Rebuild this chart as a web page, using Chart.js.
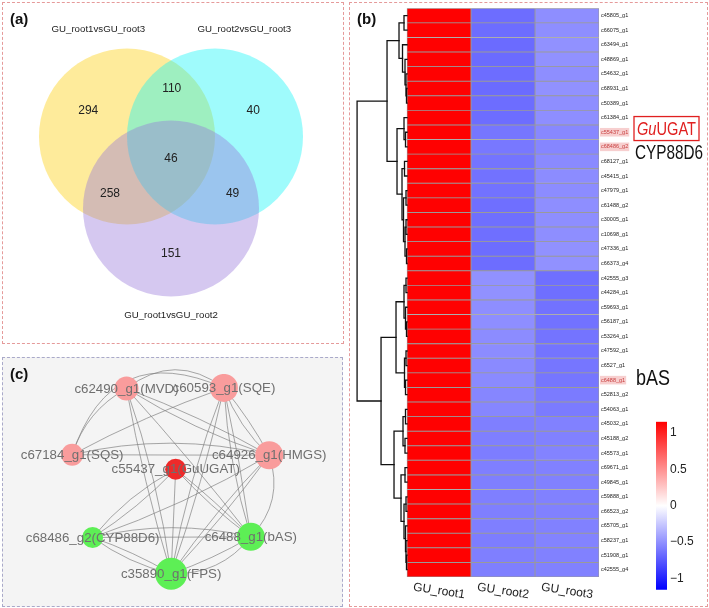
<!DOCTYPE html>
<html>
<head>
<meta charset="utf-8">
<script src="https://cdn.jsdelivr.net/npm/chart.js@4.4.0/dist/chart.umd.min.js"></script>
<style>
  body { margin: 0; background: #fff; width: 709px; height: 608px; position: relative; overflow: hidden;
         font-family: "Liberation Sans", Arial, sans-serif; }
  .panel { position: absolute; box-sizing: border-box; }
  #pa { left: 2px; top: 2px; width: 342px; height: 342px; border: 1px dashed #e59a9a; }
  #pb { left: 349px; top: 2px; width: 359px; height: 605px; border: 1px dashed #e59a9a; }
  #pc { left: 2px; top: 357px; width: 341px; height: 250px; border: 1px dashed #a9a9c9; background: #f4f4f4; }
  .tag { position: absolute; font-weight: bold; font-size: 15px; line-height: 15px; color: #111; }
  canvas { position: absolute; }
</style>
</head>
<body>
<div class="panel" id="pa"></div>
<div class="panel" id="pb"></div>
<div class="panel" id="pc"></div>

<canvas id="venn" width="340" height="340" style="left:3px;top:3px"></canvas>
<canvas id="heat" width="356" height="602" style="left:350px;top:3px"></canvas>
<canvas id="cbar" width="60" height="190" style="left:640px;top:410px"></canvas>
<canvas id="net" width="339" height="248" style="left:3px;top:358px"></canvas>

<div class="tag" style="left:10px;top:11px">(a)</div>
<div class="tag" style="left:357px;top:11px">(b)</div>
<div class="tag" style="left:10px;top:366px">(c)</div>

<script>
// ── (a) Venn: 세 비교군의 DEG 겹침 ──
const vennSets   = ['GU_root1vsGU_root3', 'GU_root2vsGU_root3', 'GU_root1vsGU_root2'];
const vennCx     = [-0.5, 0.5, 0];
const vennCy     = [0.273, 0.273, -0.545];
const vennLabelX = [-0.826, 0.833, 0];
const vennLabelY = [1.49, 1.49, -1.756];
const vennCounts = [294, 110, 40, 46, 258, 49, 151];
const vennCountX = [-0.94, 0.008, 0.935, 0, -0.693, 0.70, 0];
const vennCountY = [0.566, 0.82, 0.566, 0.025, -0.374, -0.374, -1.06];

// ── (b) heatmap: 행 z-score ──
const genes = ['c45805_g1','c66075_g1','c63494_g1','c48869_g1','c54632_g1','c68931_g1','c50389_g1','c61384_g1',
  'c55437_g1','c68486_g2','c68127_g1','c45415_g1','c47979_g1','c61488_g2','c30005_g1','c10698_g1','c47336_g1',
  'c66373_g4','c42555_g3','c44284_g1','c59693_g1','c56187_g1','c53264_g1','c47592_g1','c6527_g1','c6488_g1',
  'c52813_g2','c54063_g1','c45032_g1','c45188_g2','c45573_g1','c69671_g1','c49845_g1','c59888_g1','c66523_g2',
  'c65705_g1','c58237_g1','c51908_g1','c42555_g4'];
const samples = ['GU_root1', 'GU_root2', 'GU_root3'];
const zRoot1 = [1.15,1.15,1.15,1.15,1.15,1.15,1.15,1.15,1.15,1.15,1.15,1.15,1.15,1.15,1.15,1.15,1.15,1.15,
  1.15,1.15,1.15,1.15,1.15,1.15,1.15,1.15,1.15,1.15,1.15,1.15,1.15,1.15,1.15,1.15,1.15,1.15,1.15,1.15,1.15];
const zRoot2 = [-0.66,-0.66,-0.67,-0.67,-0.66,-0.67,-0.66,-0.66,-0.62,-0.61,-0.63,-0.64,-0.64,-0.65,-0.65,-0.65,
  -0.66,-0.66,-0.50,-0.50,-0.51,-0.51,-0.52,-0.52,-0.53,-0.53,-0.55,-0.55,-0.58,-0.58,-0.59,-0.58,-0.58,-0.58,
  -0.58,-0.58,-0.59,-0.58,-0.58];
const zRoot3 = [-0.51,-0.51,-0.50,-0.50,-0.51,-0.50,-0.51,-0.51,-0.54,-0.55,-0.53,-0.52,-0.52,-0.51,-0.51,-0.51,
  -0.50,-0.50,-0.65,-0.65,-0.64,-0.64,-0.63,-0.63,-0.62,-0.62,-0.60,-0.60,-0.57,-0.57,-0.56,-0.57,-0.57,-0.57,
  -0.57,-0.57,-0.56,-0.57,-0.57];
const highlighted = ['c55437_g1', 'c68486_g2', 'c6488_g1'];
const zTicks = [1, 0.5, 0, -0.5, -1];
const Z_LIM = 1.155;
// 행 군집 (높이, 왼쪽, 오른쪽) — 정수는 행 번호
const dendro = [1.0,
  [0.4,
    [0.16, [0.06, 0, 1], [0.09, 2, [0.04, 3, [0.02, 4, [0.01, 5, 6]]]]],
    [0.2, [0.06, 7, [0.03, 8, 9]],
          [0.1, [0.05, 10, 11], [0.07, [0.02, 12, 13], [0.04, [0.02, 14, 15], [0.01, 16, 17]]]]]],
  [0.52,
    [0.22, [0.06, [0.02, 18, 19], [0.03, 20, [0.01, 21, 22]]], [0.05, [0.02, 23, 24], [0.03, 25, 26]]],
    [0.26, [0.08, [0.03, 27, 28], [0.04, 29, 30]],
           [0.12, [0.04, 31, 32], [0.06, [0.02, 33, 34], [0.03, 35, [0.02, 36, [0.01, 37, 38]]]]]]]];

// ── (c) 공발현 네트워크 ──
const nodeNames = ['c62490_g1(MVD)', 'c60593_g1(SQE)', 'c67184_g1(SQS)', 'c64926_g1(HMGS)',
  'c55437_g1(GuUGAT)', 'c68486_g2(CYP88D6)', 'c6488_g1(bAS)', 'c35890_g1(FPS)'];
const nodeGroup = ['up', 'up', 'up', 'up', 'ugat', 'down', 'down', 'down'];
const nodeX = [118.7, 226.3, 58.7, 276.3, 173, 81.3, 256, 168];
const nodeY = [16.7, 16, 92.7, 93.3, 109.3, 187.7, 187, 229.3];
const nodeDegree = [12, 14, 11, 14, 10.5, 10.5, 14, 16];
const edgeFrom = [0, 2, 2, 2, 2, 2, 0, 0, 0, 0, 0, 1, 1, 1, 1, 1, 1, 3, 3, 3, 3, 4, 4, 4, 4, 4, 5, 5, 5, 5, 6, 6];
const edgeTo   = [1, 1, 1, 0, 3, 3, 3, 3, 6, 7, 7, 3, 3, 6, 6, 7, 7, 7, 7, 6, 5, 5, 5, 7, 6, 6, 6, 6, 7, 7, 7, 7];
const edgeBend = [0.38, 0.55, 0.04, 0.2, 0, 0.12, 0.04, -0.06, 0.02, -0.03, 0.05, -0.12, 0.05, 0.02, -0.06,
  0.03, -0.05, 0.03, -0.04, 0.3, 0.05, -0.1, 0.06, 0, 0.03, -0.05, 0.12, 0, 0.05, -0.1, 0.05, 0.25];

const FONT = '"Liberation Sans", Arial, sans-serif';
const quiet = { legend: { display: false }, tooltip: { enabled: false } };

// 좁은 글꼴이 없으니 폭을 맞춰 가로로 눌러 씀
function fitText(ctx, parts, x, y, width) {
  const ws = parts.map(p => { ctx.font = p.font; return ctx.measureText(p.text).width; });
  const sx = width / ws.reduce((a, b) => a + b, 0);
  ctx.save();
  ctx.translate(x, y); ctx.scale(sx, 1);
  let off = 0;
  parts.forEach((p, i) => { ctx.font = p.font; ctx.fillText(p.text, off, 0); off += ws[i]; });
  ctx.restore();
}

// ───────── (a) Venn ─────────
const VENN_COLORS = ['rgba(252,204,5,0.4)', 'rgba(15,245,248,0.4)', 'rgba(150,117,217,0.4)'];
const U = 88; // px per unit
const vennText = {
  id: 'vennText',
  afterDatasetsDraw(chart) {
    const { ctx, scales: { x, y } } = chart;
    ctx.save();
    ctx.textAlign = 'center'; ctx.textBaseline = 'middle'; ctx.fillStyle = '#222';
    ctx.font = `9.7px ${FONT}`;
    vennSets.forEach((s, i) => ctx.fillText(s, x.getPixelForValue(vennLabelX[i]), y.getPixelForValue(vennLabelY[i])));
    ctx.font = `12px ${FONT}`;
    vennCounts.forEach((n, i) => ctx.fillText(String(n), x.getPixelForValue(vennCountX[i]), y.getPixelForValue(vennCountY[i])));
    ctx.restore();
  }
};
new Chart(document.getElementById('venn'), {
  type: 'scatter',
  data: { datasets: [{
    data: vennCx.map((cx, i) => ({ x: cx, y: vennCy[i] })),
    pointBackgroundColor: VENN_COLORS,
    pointBorderWidth: 0,
    pointRadius: ctx => {
      const s = ctx.chart.scales.x;
      const r = Math.abs(s.getPixelForValue(1) - s.getPixelForValue(0));
      return isFinite(r) ? r : 0;
    },
    clip: false,
  }] },
  options: {
    responsive: false, animation: false, events: [],
    layout: { padding: 0 },
    plugins: quiet,
    scales: {
      x: { display: false, min: -168 / U, max: 172 / U },
      y: { display: false, min: -182.5 / U, max: 157.5 / U },
    }
  },
  plugins: [vennText]
});

// ───────── (b) heatmap ─────────
const zCols = [zRoot1, zRoot2, zRoot3];
function heatColor(v) {
  const t = Math.min(1, Math.abs(v) / Z_LIM);
  const c = Math.round(255 * (1 - t));
  return v >= 0 ? `rgb(255,${c},${c})` : `rgb(${c},${c},255)`;
}
const DENDRO_UNIT = 0.78;
const heatExtras = {
  id: 'heatExtras',
  afterDatasetsDraw(chart) {
    const { ctx, scales: { x, y }, chartArea } = chart;
    ctx.save();
    // 덴드로그램
    ctx.strokeStyle = '#111'; ctx.lineWidth = 1.3; ctx.lineCap = 'square';
    const hx = h => x.getPixelForValue(-h * DENDRO_UNIT);
    const walk = n => {
      if (typeof n === 'number') return { c: n, h: 0 };
      const A = walk(n[1]), B = walk(n[2]);
      ctx.beginPath();
      ctx.moveTo(hx(A.h), y.getPixelForValue(A.c));
      ctx.lineTo(hx(n[0]), y.getPixelForValue(A.c));
      ctx.lineTo(hx(n[0]), y.getPixelForValue(B.c));
      ctx.lineTo(hx(B.h), y.getPixelForValue(B.c));
      ctx.stroke();
      return { c: (A.c + B.c) / 2, h: n[0] };
    };
    walk(dendro);
    // 열 이름
    ctx.fillStyle = '#222'; ctx.font = `12px ${FONT}`;
    ctx.textAlign = 'center'; ctx.textBaseline = 'middle';
    samples.forEach((s, k) => {
      ctx.save();
      ctx.translate(x.getPixelForValue(k + 0.5), chartArea.bottom + 14);
      ctx.rotate(0.15);
      ctx.fillText(s, 0, 0);
      ctx.restore();
    });
    // 주석: GuUGAT / CYP88D6 / bAS
    const ax = chartArea.right + 35;
    const gy = y.getPixelForValue(genes.indexOf('c55437_g1')) - 3.7;
    ctx.strokeStyle = '#e02020'; ctx.lineWidth = 1.3;
    ctx.strokeRect(ax, gy - 12, 65, 24);
    ctx.textAlign = 'left'; ctx.textBaseline = 'middle';
    ctx.fillStyle = '#e02020';
    fitText(ctx, [{ text: 'Gu', font: `italic 19px ${FONT}` }, { text: 'UGAT', font: `19px ${FONT}` }], ax + 3, gy + 1, 59);
    ctx.fillStyle = '#111';
    fitText(ctx, [{ text: 'CYP88D6', font: `21px ${FONT}` }],
      ax + 1, y.getPixelForValue(genes.indexOf('c68486_g2')) + 6.5, 68);
    fitText(ctx, [{ text: 'bAS', font: `22px ${FONT}` }],
      ax + 2, y.getPixelForValue(genes.indexOf('c6488_g1')) - 1, 34);
    ctx.restore();
  }
};
new Chart(document.getElementById('heat'), {
  type: 'bar',
  data: {
    labels: genes,
    datasets: samples.map((s, k) => ({
      label: s,
      data: genes.map(() => 1),
      backgroundColor: ctx => heatColor(zCols[k][ctx.dataIndex]),
      borderColor: '#9a9a9a',
      borderWidth: 0.8,
      borderSkipped: false,
      barPercentage: 1,
      categoryPercentage: 1,
    }))
  },
  options: {
    indexAxis: 'y', responsive: false, animation: false, events: [],
    layout: { padding: { left: 5.8, top: 2, bottom: 28, right: 0 } },
    plugins: quiet,
    scales: {
      x: { stacked: true, display: false, min: -0.8, max: 3 },
      y: {
        stacked: true, position: 'right',
        grid: { display: false, drawTicks: false }, border: { display: false },
        ticks: {
          autoSkip: false, padding: 2,
          font: { family: FONT, size: 5.5 },
          color: c => highlighted.includes(genes[c.index]) ? '#c84040' : '#222',
          showLabelBackdrop: c => highlighted.includes(genes[c.index]),
          backdropColor: '#f7cfcf',
          backdropPadding: { x: 1, y: 1 },
        },
        afterFit: s => { s.width = 107; },
      }
    }
  },
  plugins: [heatExtras]
});

// 색 막대
new Chart(document.getElementById('cbar'), {
  type: 'bar',
  data: { labels: [''], datasets: [{
    data: [[-Z_LIM, Z_LIM]],
    barPercentage: 1, categoryPercentage: 1, borderWidth: 0,
    backgroundColor: ctx => {
      const ca = ctx.chart.chartArea;
      if (!ca) return '#fff';
      const yS = ctx.chart.scales.y;
      const g = ctx.chart.ctx.createLinearGradient(0, yS.getPixelForValue(-Z_LIM), 0, yS.getPixelForValue(Z_LIM));
      g.addColorStop(0, heatColor(-Z_LIM)); g.addColorStop(0.5, heatColor(0)); g.addColorStop(1, heatColor(Z_LIM));
      return g;
    },
  }] },
  options: {
    responsive: false, animation: false, events: [],
    layout: { padding: { left: 16, top: 11.7, bottom: 9.7, right: 0 } },
    plugins: quiet,
    scales: {
      x: { display: false },
      y: {
        position: 'right', min: -Z_LIM, max: Z_LIM,
        grid: { display: false, drawTicks: false }, border: { display: false },
        afterBuildTicks: s => { s.ticks = zTicks.map(v => ({ value: v })); },
        ticks: {
          padding: 3, color: '#222', font: { family: FONT, size: 12 },
          callback: v => (v < 0 ? '\u2212' : '') + Math.abs(v),
        },
        afterFit: s => { s.width = 33; },
      }
    }
  }
});

// ───────── (c) network ─────────
const GROUP_COLORS = { up: '#f99c9c', ugat: '#ee2a2a', down: '#5def55' };
const netExtras = {
  id: 'netExtras',
  beforeDatasetsDraw(chart) {
    const { ctx, scales: { x, y } } = chart;
    ctx.save();
    ctx.strokeStyle = 'rgba(125,125,125,0.75)'; ctx.lineWidth = 0.9;
    edgeFrom.forEach((a, i) => {
      const b = edgeTo[i];
      const x1 = x.getPixelForValue(nodeX[a]), y1 = y.getPixelForValue(nodeY[a]);
      const x2 = x.getPixelForValue(nodeX[b]), y2 = y.getPixelForValue(nodeY[b]);
      const dx = x2 - x1, dy = y2 - y1;
      const cx = (x1 + x2) / 2 + edgeBend[i] * dy, cy = (y1 + y2) / 2 - edgeBend[i] * dx;
      ctx.beginPath(); ctx.moveTo(x1, y1); ctx.quadraticCurveTo(cx, cy, x2, y2); ctx.stroke();
    });
    ctx.restore();
  },
  afterDatasetsDraw(chart) {
    const { ctx, scales: { x, y } } = chart;
    ctx.save();
    ctx.fillStyle = '#6f6f6f'; ctx.font = `13.3px ${FONT}`;
    ctx.textAlign = 'center'; ctx.textBaseline = 'middle';
    nodeNames.forEach((n, i) => ctx.fillText(n, x.getPixelForValue(nodeX[i]), y.getPixelForValue(nodeY[i]) + 0.5));
    ctx.restore();
  }
};
new Chart(document.getElementById('net'), {
  type: 'scatter',
  data: { datasets: [{
    data: nodeX.map((v, i) => ({ x: v, y: nodeY[i] })),
    pointRadius: nodeDegree,
    pointBackgroundColor: nodeGroup.map(g => GROUP_COLORS[g]),
    pointBorderWidth: 0,
  }] },
  options: {
    responsive: false, animation: false, events: [],
    layout: { padding: 0 },
    plugins: quiet,
    scales: {
      x: { display: false, min: 0, max: 339 },
      y: { display: false, min: 0, max: 248, reverse: true },
    }
  },
  plugins: [netExtras]
});
</script>
</body>
</html>
